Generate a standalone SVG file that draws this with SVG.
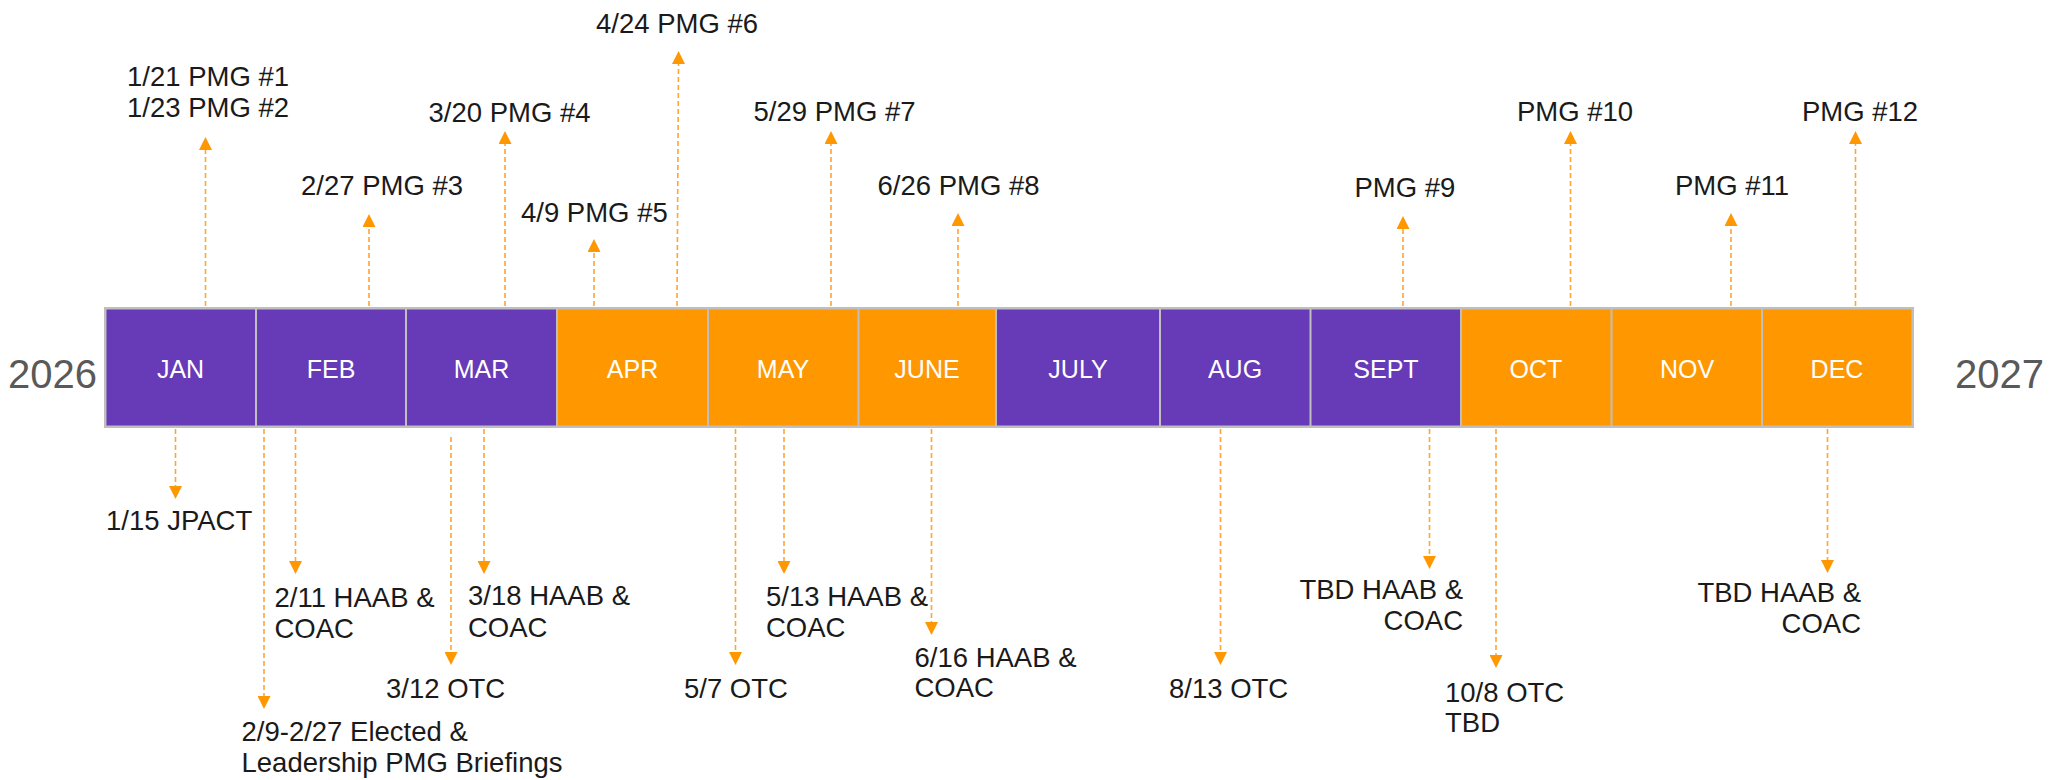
<svg xmlns="http://www.w3.org/2000/svg" width="2058" height="780" viewBox="0 0 2058 780">
<style>
.lbl{font-family:"Liberation Sans",Arial,sans-serif;font-size:27.5px;fill:#1a1a1a}
.mon{font-family:"Liberation Sans",Arial,sans-serif;font-size:25px;fill:#fff;text-anchor:middle}
.yr{font-family:"Liberation Sans",Arial,sans-serif;font-size:40px;fill:#595959}
.p{fill:#673AB7}
.o{fill:#FF9800}
.c{stroke:#FFA530;stroke-width:1.6;stroke-dasharray:5 3;fill:none;marker-end:url(#ah)}
.r{text-anchor:end}
</style>
<defs>
<marker id="ah" markerUnits="userSpaceOnUse" markerWidth="13" markerHeight="13" viewBox="0 0 13 13" refX="0" refY="6.5" orient="auto">
<path d="M0,0 L13,6.5 L0,13 z" fill="#FF9800"/>
</marker>
</defs>
<rect width="2058" height="780" fill="#fff"/>
<g id="bar">
<rect x="104" y="307" width="1810" height="121" fill="#BFBFBF"/>
<g id="jan"><rect class="p" x="106.5" y="309.5" width="148.5" height="116"/><text class="mon" x="180.5" y="378">JAN</text></g>
<g id="feb"><rect class="p" x="257" y="309.5" width="148" height="116"/><text class="mon" x="331" y="378">FEB</text></g>
<g id="mar"><rect class="p" x="407" y="309.5" width="149" height="116"/><text class="mon" x="481.5" y="378">MAR</text></g>
<g id="apr"><rect class="o" x="558" y="309.5" width="149" height="116"/><text class="mon" x="632.5" y="378">APR</text></g>
<g id="may"><rect class="o" x="709" y="309.5" width="148.5" height="116"/><text class="mon" x="783" y="378">MAY</text></g>
<g id="june"><rect class="o" x="859.5" y="309.5" width="135.5" height="116"/><text class="mon" x="927" y="378">JUNE</text></g>
<g id="july"><rect class="p" x="997" y="309.5" width="162" height="116"/><text class="mon" x="1078" y="378">JULY</text></g>
<g id="aug"><rect class="p" x="1161" y="309.5" width="148.5" height="116"/><text class="mon" x="1235" y="378">AUG</text></g>
<g id="sept"><rect class="p" x="1311.5" y="309.5" width="148.5" height="116"/><text class="mon" x="1386" y="378">SEPT</text></g>
<g id="oct"><rect class="o" x="1462" y="309.5" width="148.5" height="116"/><text class="mon" x="1536" y="378">OCT</text></g>
<g id="nov"><rect class="o" x="1612.5" y="309.5" width="148.5" height="116"/><text class="mon" x="1687" y="378">NOV</text></g>
<g id="dec"><rect class="o" x="1763" y="309.5" width="148.5" height="116"/><text class="mon" x="1837" y="378">DEC</text></g>
</g>
<g id="year2026"><text class="yr" x="8" y="388">2026</text></g>
<g id="year2027"><text class="yr" x="1955" y="388">2027</text></g>
<g id="connectors">
<line class="c" x1="205.5" y1="306" x2="205.5" y2="150"/>
<line class="c" x1="369" y1="306" x2="369" y2="227"/>
<line class="c" x1="505" y1="306" x2="505" y2="144"/>
<line class="c" x1="594" y1="306" x2="594" y2="252"/>
<line class="c" x1="677" y1="306" x2="678.5" y2="64"/>
<line class="c" x1="831" y1="306" x2="831" y2="144"/>
<line class="c" x1="958" y1="306" x2="958" y2="226"/>
<line class="c" x1="1403" y1="306" x2="1403" y2="229"/>
<line class="c" x1="1570.5" y1="306" x2="1570.5" y2="144"/>
<line class="c" x1="1731" y1="306" x2="1731" y2="226"/>
<line class="c" x1="1855.5" y1="306" x2="1855.5" y2="144"/>
<line class="c" x1="175.5" y1="429" x2="175.5" y2="486"/>
<line class="c" x1="264" y1="429" x2="264" y2="696"/>
<line class="c" x1="295.5" y1="429" x2="295.5" y2="561"/>
<line class="c" x1="451" y1="437" x2="451" y2="652"/>
<line class="c" x1="484" y1="429" x2="484" y2="561"/>
<line class="c" x1="735.5" y1="429" x2="735.5" y2="652"/>
<line class="c" x1="784" y1="429" x2="784" y2="561"/>
<line class="c" x1="931.5" y1="429" x2="931.5" y2="622"/>
<line class="c" x1="1220.5" y1="429" x2="1220.5" y2="652"/>
<line class="c" x1="1429.5" y1="429" x2="1429.5" y2="556"/>
<line class="c" x1="1496" y1="429" x2="1496" y2="655"/>
<line class="c" x1="1827.5" y1="429" x2="1827.5" y2="560"/>
</g>
<g id="pmg1-2"><text class="lbl" x="127" y="86">1/21 PMG #1</text><text class="lbl" x="127" y="117">1/23 PMG #2</text></g>
<g id="pmg3"><text class="lbl" x="301" y="195">2/27 PMG #3</text></g>
<g id="pmg4"><text class="lbl" x="428.5" y="122">3/20 PMG #4</text></g>
<g id="pmg5"><text class="lbl" x="521" y="222">4/9 PMG #5</text></g>
<g id="pmg6"><text class="lbl" x="596" y="33">4/24 PMG #6</text></g>
<g id="pmg7"><text class="lbl" x="753.5" y="121">5/29 PMG #7</text></g>
<g id="pmg8"><text class="lbl" x="877.5" y="195">6/26 PMG #8</text></g>
<g id="pmg9"><text class="lbl" x="1354.5" y="197">PMG #9</text></g>
<g id="pmg10"><text class="lbl" x="1517" y="121">PMG #10</text></g>
<g id="pmg11"><text class="lbl" x="1675" y="195">PMG #11</text></g>
<g id="pmg12"><text class="lbl" x="1802" y="121">PMG #12</text></g>
<g id="jpact"><text class="lbl" x="106" y="530">1/15 JPACT</text></g>
<g id="briefings"><text class="lbl" x="241.5" y="741">2/9-2/27 Elected &amp;</text><text class="lbl" x="241.5" y="772">Leadership PMG Briefings</text></g>
<g id="haab211"><text class="lbl" x="274.5" y="607">2/11 HAAB &amp;</text><text class="lbl" x="274.5" y="638">COAC</text></g>
<g id="otc312"><text class="lbl" x="386" y="698">3/12 OTC</text></g>
<g id="haab318"><text class="lbl" x="468" y="605">3/18 HAAB &amp;</text><text class="lbl" x="468" y="637">COAC</text></g>
<g id="otc57"><text class="lbl" x="684" y="698">5/7 OTC</text></g>
<g id="haab513"><text class="lbl" x="766" y="606">5/13 HAAB &amp;</text><text class="lbl" x="766" y="637">COAC</text></g>
<g id="haab616"><text class="lbl" x="914.5" y="667">6/16 HAAB &amp;</text><text class="lbl" x="914.5" y="697">COAC</text></g>
<g id="otc813"><text class="lbl" x="1169" y="698">8/13 OTC</text></g>
<g id="haabsept"><text class="lbl r" x="1463" y="599">TBD HAAB &amp;</text><text class="lbl r" x="1463" y="630">COAC</text></g>
<g id="otc108"><text class="lbl" x="1445" y="702">10/8 OTC</text><text class="lbl" x="1445" y="732">TBD</text></g>
<g id="haabdec"><text class="lbl r" x="1861" y="602">TBD HAAB &amp;</text><text class="lbl r" x="1861" y="633">COAC</text></g>
</svg>
